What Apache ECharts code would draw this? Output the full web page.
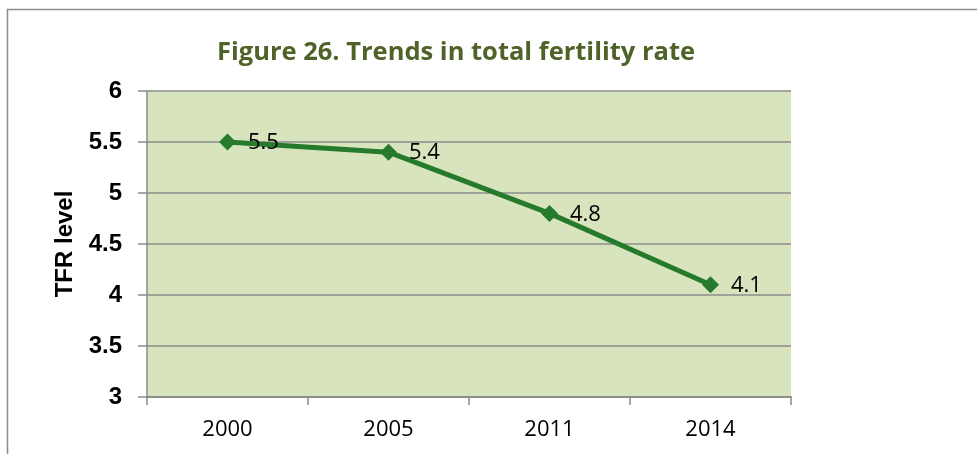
<!DOCTYPE html>
<html>
<head>
<meta charset="utf-8">
<script src="https://cdn.jsdelivr.net/npm/echarts@6/dist/echarts.min.js"></script>
<style>
  html, body { margin: 0; padding: 0; background: #fff; }
  #chart { width: 977px; height: 454px; }
</style>
</head>
<body>
<div id="chart"></div>
<script>
  // data
  var years = ['2000', '2005', '2011', '2014']
  var tfr = [5.5, 5.4, 4.8, 4.1]

  var chart = echarts.init(document.getElementById('chart'))

  chart.setOption({
    animation: false,
    backgroundColor: '#fff',
    title: {
      text: 'Figure 26. Trends in total fertility rate',
      left: 451,
      top: 35,
      textAlign: 'center',
      textStyle: {
        fontFamily: 'Open Sans',
        fontWeight: 'bold',
        fontSize: 25.5,
        color: '#4F6228'
      }
    },
    graphic: [{
      type: 'rect',
      shape: { x: 7.5, y: 9.5, width: 1200, height: 600 },
      style: { fill: 'none', stroke: '#8c8c8c', lineWidth: 1.5 },
      z: -1
    }],
    grid: {
      left: 147,
      right: 186,
      top: 91,
      bottom: 57,
      show: true,
      backgroundColor: '#D7E4BD',
      borderWidth: 0
    },
    xAxis: {
      type: 'category',
      data: years,
      boundaryGap: true,
      axisLine: { lineStyle: { color: '#8c8c8c', width: 2 } },
      axisTick: { show: true, length: 8, lineStyle: { color: '#8c8c8c', width: 1.5 } },
      axisLabel: {
        margin: 22,
        fontFamily: 'Open Sans',
        fontSize: 22,
        color: '#000'
      }
    },
    yAxis: {
      type: 'value',
      min: 3,
      max: 6,
      interval: 0.5,
      name: 'TFR level',
      nameLocation: 'middle',
      nameGap: 70,
      nameTextStyle: {
        fontFamily: 'Liberation Sans',
        fontWeight: 'bold',
        fontSize: 24,
        color: '#000'
      },
      axisLine: { show: true, lineStyle: { color: '#8c8c8c', width: 1.5 } },
      axisTick: { show: true, length: 9, lineStyle: { color: '#8c8c8c', width: 1.5 } },
      splitLine: { lineStyle: { color: '#8c8c8c', width: 1.5 } },
      axisLabel: {
        margin: 25,
        fontFamily: 'Liberation Sans',
        fontWeight: 'bold',
        fontSize: 24,
        color: '#000'
      }
    },
    series: [{
      type: 'line',
      data: tfr,
      symbol: 'diamond',
      symbolSize: 17,
      lineStyle: { color: '#267a2c', width: 5 },
      itemStyle: { color: '#267a2c' },
      label: {
        show: true,
        position: 'right',
        distance: 12,
        offset: [0, 1],
        fontFamily: 'Open Sans',
        fontSize: 22,
        color: '#000'
      }
    }]
  })
</script>
</body>
</html>
